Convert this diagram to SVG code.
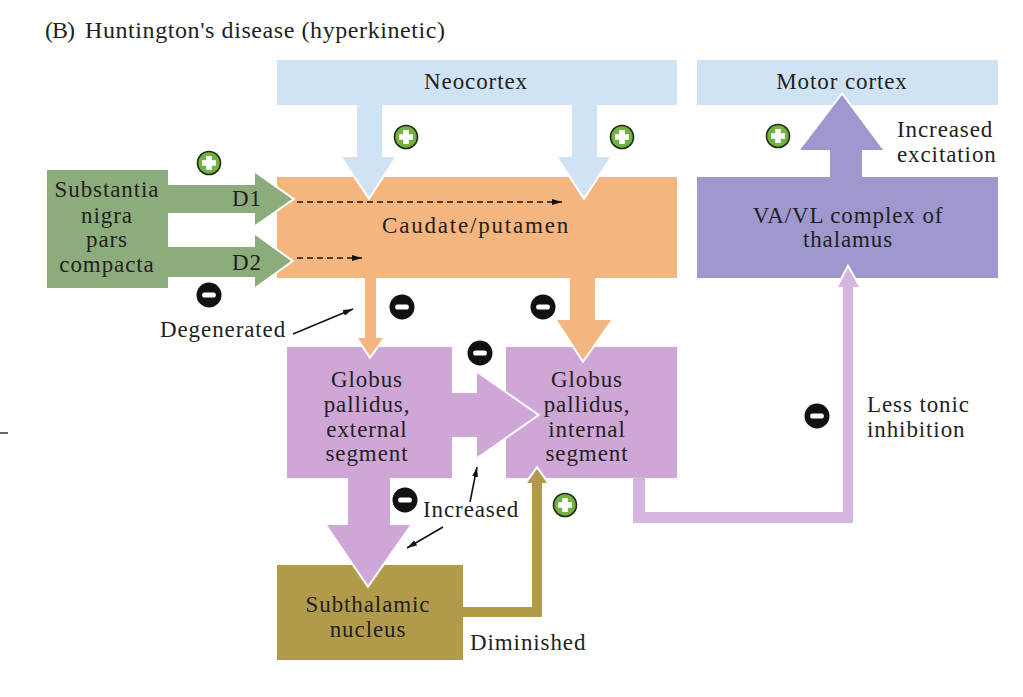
<svg xmlns="http://www.w3.org/2000/svg" width="1023" height="697" viewBox="0 0 1023 697">
<style>
.t{font-family:"Liberation Serif","DejaVu Serif",serif;font-size:23px;fill:#231f20;letter-spacing:0.9px}
.m{text-anchor:middle}
.title{font-family:"Liberation Serif","DejaVu Serif",serif;font-size:24px;fill:#231f20}
.tip{fill:none;stroke:#fff;stroke-width:4;stroke-linejoin:miter}
.dash{stroke:#1a1a1a;stroke-width:1.6;stroke-dasharray:6 4;fill:none}
.ptr{stroke:#111;stroke-width:1.6;fill:none}
.blue{fill:#cfe3f5}
.orange{fill:#f4b57e}
.green{fill:#8dac7b}
.purple{fill:#cfa7d6}
.violet{fill:#9e98cf}
.olive{fill:#b19b4b}
.lilac{fill:#d5b5dd}
</style>
<defs>
<marker id="ah" viewBox="0 0 10 6" refX="10" refY="3" markerWidth="10" markerHeight="6" markerUnits="userSpaceOnUse" orient="auto">
<path d="M0,0 L10,3 L0,6 Z" fill="#111"/>
</marker>
<g id="plus">
<circle r="11.5" fill="#74b143" stroke="#1c2b12" stroke-width="1.6"/>
<rect x="-2.8" y="-7" width="5.6" height="14" fill="#fff"/>
<rect x="-7" y="-2.8" width="14" height="5.6" fill="#fff"/>
</g>
<g id="minus">
<circle r="12.5" fill="#111"/>
<rect x="-6.8" y="-2.6" width="13.6" height="5.2" rx="2.2" fill="#fff"/>
</g>
</defs>
<rect width="1023" height="697" fill="#fff"/>
<text class="title" y="38"><tspan x="45" textLength="30" lengthAdjust="spacing">(B)</tspan><tspan x="85" textLength="360" lengthAdjust="spacing">Huntington's disease (hyperkinetic)</tspan></text>
<line x1="0" y1="433" x2="8" y2="433" stroke="#333" stroke-width="1.5"/>

<g id="neocortex">
<rect class="blue" x="277" y="60" width="400" height="45"/>
<text class="t m" x="476" y="89">Neocortex</text>
</g>
<g id="motor-cortex">
<rect class="blue" x="697" y="60" width="301" height="45"/>
<text class="t m" x="842" y="89">Motor cortex</text>
</g>
<g id="substantia-nigra">
<rect class="green" x="47" y="170" width="121" height="118"/>
<text class="t m" x="107" y="197">Substantia</text>
<text class="t m" x="107" y="223">nigra</text>
<text class="t m" x="107" y="247">pars</text>
<text class="t m" x="107" y="272">compacta</text>
</g>
<g id="caudate-putamen">
<rect class="orange" x="277" y="177" width="400" height="101"/>
<text class="t m" x="476" y="233" style="letter-spacing:1.8px">Caudate/putamen</text>
</g>
<g id="va-vl-thalamus">
<rect class="violet" x="697" y="177" width="301" height="101"/>
<text class="t m" x="848" y="223">VA/VL complex of</text>
<text class="t m" x="848" y="247">thalamus</text>
</g>
<g id="gp-external">
<rect class="purple" x="287" y="347" width="165" height="131"/>
<text class="t m" x="367" y="387">Globus</text>
<text class="t m" x="367" y="412">pallidus,</text>
<text class="t m" x="367" y="437">external</text>
<text class="t m" x="367" y="461">segment</text>
</g>
<g id="gp-internal">
<rect class="purple" x="506" y="347" width="171" height="131"/>
<text class="t m" x="587" y="387">Globus</text>
<text class="t m" x="587" y="412">pallidus,</text>
<text class="t m" x="587" y="437">internal</text>
<text class="t m" x="587" y="461">segment</text>
</g>
<g id="subthalamic-nucleus">
<rect class="olive" x="277" y="565" width="186" height="95"/>
<text class="t m" x="368" y="612">Subthalamic</text>
<text class="t m" x="368" y="637">nucleus</text>
</g>

<g id="connectors">
<path class="tip" d="M342,157 L369,197 L395,157"/>
<path class="tip" d="M558,157 L584,197 L610,157"/>
<path class="tip" d="M255,173 L292,199 L255,225"/>
<path class="tip" d="M255,235 L291,261 L255,287"/>
<path class="tip" d="M358,338 L370,356 L383,338"/>
<path class="tip" d="M557,320 L583,360 L611,320"/>
<path class="tip" d="M477,373 L537,415 L477,457"/>
<path class="tip" d="M327,525 L368,585 L410,525"/>
<path class="tip" d="M527,483 L537,469 L547,483"/>
<path class="tip" d="M838,287 L848,268 L859,287"/>
<path class="tip" d="M800,150 L842,95 L883,150"/>

<polygon class="blue" points="357,104 382,104 382,157 395,157 369,197 342,157 357,157"/>
<polygon class="blue" points="572,104 597,104 597,157 610,157 584,197 558,157 572,157"/>
<polygon class="green" points="167,185 255,185 255,173 292,199 255,225 255,213 167,213"/>
<polygon class="green" points="167,247 255,247 255,235 291,261 255,287 255,277 167,277"/>
<polygon class="orange" points="365,277 376,277 376,338 383,338 370,356 358,338 365,338"/>
<polygon class="orange" points="570,277 595,277 595,320 611,320 583,360 557,320 570,320"/>
<polygon class="purple" points="451,393 477,393 477,373 537,415 477,457 477,437 451,437"/>
<polygon class="purple" points="348,477 390,477 390,525 410,525 368,585 327,525 348,525"/>
<polygon class="olive" points="462,607 532,607 532,483 527,483 537,469 547,483 542,483 542,617 462,617"/>
<polygon class="lilac" points="633,477 645,477 645,512 843,512 843,287 838,287 848,268 859,287 853,287 853,523 633,523"/>
<polygon class="violet" points="830,178 830,150 800,150 842,95 883,150 862,150 862,178"/>

<line class="dash" x1="297" y1="202" x2="562" y2="202" marker-end="url(#ah)"/>
<line class="dash" x1="297" y1="258" x2="362" y2="258" marker-end="url(#ah)"/>
<text class="t m" x="247" y="206">D1</text>
<text class="t m" x="247" y="270">D2</text>

<line class="ptr" x1="293" y1="334" x2="353" y2="309" marker-end="url(#ah)"/>
<line class="ptr" x1="470" y1="502" x2="477" y2="467" marker-end="url(#ah)"/>
<line class="ptr" x1="443" y1="527" x2="407" y2="548" marker-end="url(#ah)"/>
</g>

<g id="signs">
<use href="#plus" x="209" y="163"/>
<use href="#plus" x="406" y="137"/>
<use href="#plus" x="622" y="137"/>
<use href="#plus" x="778" y="136"/>
<use href="#plus" x="565" y="505"/>
<use href="#minus" x="209" y="295"/>
<use href="#minus" x="402" y="307"/>
<use href="#minus" x="543" y="307"/>
<use href="#minus" x="480" y="353"/>
<use href="#minus" x="405" y="500"/>
<use href="#minus" x="817" y="416"/>
</g>

<g id="annotations">
<text class="t" x="160" y="337">Degenerated</text>
<text class="t" x="423" y="517">Increased</text>
<text class="t" x="470" y="650">Diminished</text>
<text class="t" x="897" y="137">Increased</text>
<text class="t" x="897" y="162">excitation</text>
<text class="t" x="867" y="412">Less tonic</text>
<text class="t" x="867" y="437">inhibition</text>
</g>
</svg>
